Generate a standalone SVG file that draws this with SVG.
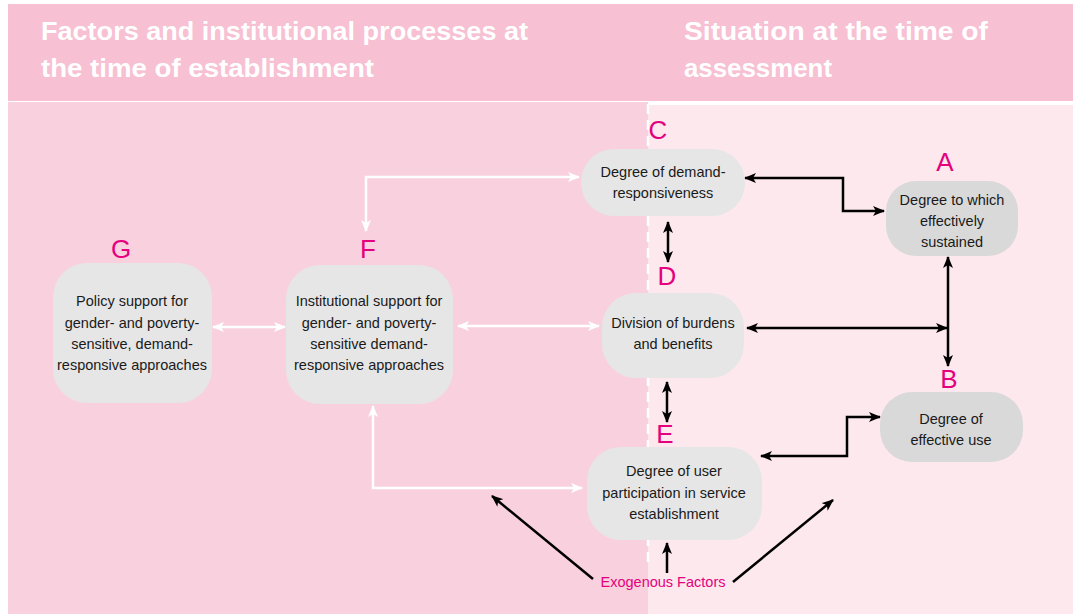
<svg xmlns="http://www.w3.org/2000/svg" width="1073" height="614" viewBox="0 0 1073 614">
<defs>
<style>
.hdr{font-family:"Liberation Sans",Arial,sans-serif;font-weight:bold;font-size:26px;fill:#ffffff}
.lbl{font-family:"Liberation Sans",Arial,sans-serif;font-size:26px;fill:#e5007d;text-anchor:middle}
.txt{font-family:"Liberation Sans",Arial,sans-serif;font-size:14.5px;fill:#1a1a1a;text-anchor:middle}
.box{fill:#e6e6e6}
.box2{fill:#d9d9d9}
.blk{fill:none;stroke:#000;stroke-width:2.5}
.wht{fill:none;stroke:#fff;stroke-width:2.5}
</style>
<marker id="ab" viewBox="0 0 12 10" refX="11" refY="5" markerWidth="12" markerHeight="10" markerUnits="userSpaceOnUse" orient="auto-start-reverse"><path d="M0,0 L12,5 L0,10 L3,5 Z" fill="#000"/></marker>
<marker id="aw" viewBox="0 0 12 10" refX="11" refY="5" markerWidth="12" markerHeight="10" markerUnits="userSpaceOnUse" orient="auto-start-reverse"><path d="M0,0 L12,5 L0,10 L3,5 Z" fill="#fff"/></marker>
</defs>
<rect x="0" y="0" width="1073" height="614" fill="#ffffff"/>
<rect x="8" y="4" width="1065" height="97" fill="#f7c0d3"/>
<rect x="8" y="102" width="640" height="512" fill="#f9d1de"/>
<rect x="648" y="105" width="425" height="509" fill="#fde8ee"/>
<line x1="648" y1="104" x2="648" y2="565" stroke="#fff" stroke-width="2.5" stroke-dasharray="10 6"/>
<g id="header">
<text class="hdr" x="41" y="40" textLength="487" lengthAdjust="spacingAndGlyphs">Factors and institutional processes at</text>
<text class="hdr" x="41" y="77" textLength="333" lengthAdjust="spacingAndGlyphs">the time of establishment</text>
<text class="hdr" x="684" y="40" textLength="304" lengthAdjust="spacingAndGlyphs">Situation at the time of</text>
<text class="hdr" x="684" y="77" textLength="148" lengthAdjust="spacingAndGlyphs">assessment</text>
</g>
<g id="connectors">
<path class="wht" d="M366,231 V177 H579" marker-start="url(#aw)" marker-end="url(#aw)"/>
<path class="wht" d="M373,406 V488 H582" marker-start="url(#aw)" marker-end="url(#aw)"/>
<path class="wht" d="M213,327 H285" marker-start="url(#aw)" marker-end="url(#aw)"/>
<path class="wht" d="M458,326 H599" marker-start="url(#aw)" marker-end="url(#aw)"/>
<path class="blk" d="M745,178 H843 V211 H884" marker-start="url(#ab)" marker-end="url(#ab)"/>
<path class="blk" d="M747,328 H947" marker-start="url(#ab)" marker-end="url(#ab)"/>
<path class="blk" d="M948,257 V366" marker-start="url(#ab)" marker-end="url(#ab)"/>
<path class="blk" d="M761,456 H847 V417 H880" marker-start="url(#ab)" marker-end="url(#ab)"/>
<path class="blk" d="M668,222 V262" marker-start="url(#ab)" marker-end="url(#ab)"/>
<path class="blk" d="M667,382 V422" marker-start="url(#ab)" marker-end="url(#ab)"/>
<path class="blk" d="M667,573 V543" marker-end="url(#ab)"/>
<path class="blk" d="M593,579 L492,496" marker-end="url(#ab)"/>
<path class="blk" d="M733,582 L833,500" marker-end="url(#ab)"/>
</g>
<g id="nodeC">
<rect class="box" x="581" y="149" width="164" height="67" rx="33"/>
<text class="lbl" x="658" y="139">C</text>
<text class="txt" x="663" y="177">Degree of demand-</text>
<text class="txt" x="663" y="198">responsiveness</text>
</g>
<g id="nodeA">
<rect class="box2" x="886" y="181" width="132" height="75" rx="30"/>
<text class="lbl" x="945" y="171">A</text>
<text class="txt" x="952" y="205">Degree to which</text>
<text class="txt" x="952" y="226">effectively</text>
<text class="txt" x="952" y="247">sustained</text>
</g>
<g id="nodeB">
<rect class="box2" x="880" y="392" width="143" height="70" rx="32"/>
<text class="lbl" x="949" y="388">B</text>
<text class="txt" x="951" y="424">Degree of</text>
<text class="txt" x="951" y="445">effective use</text>
</g>
<g id="nodeD">
<rect class="box" x="602" y="293" width="142" height="85" rx="34"/>
<text class="lbl" x="667" y="285">D</text>
<text class="txt" x="673" y="328">Division of burdens</text>
<text class="txt" x="673" y="349">and benefits</text>
</g>
<g id="nodeE">
<rect class="box" x="587" y="447" width="175" height="93" rx="34"/>
<text class="lbl" x="665" y="443">E</text>
<text class="txt" x="674" y="476">Degree of user</text>
<text class="txt" x="674" y="498">participation in service</text>
<text class="txt" x="674" y="519">establishment</text>
</g>
<g id="nodeF">
<rect class="box" x="286" y="265" width="167" height="139" rx="34"/>
<text class="lbl" x="368" y="258">F</text>
<text class="txt" x="369" y="306">Institutional support for</text>
<text class="txt" x="369" y="328">gender- and poverty-</text>
<text class="txt" x="369" y="349">sensitive demand-</text>
<text class="txt" x="369" y="370">responsive approaches</text>
</g>
<g id="nodeG">
<rect class="box" x="53" y="263" width="159" height="140" rx="34"/>
<text class="lbl" x="121" y="258">G</text>
<text class="txt" x="132" y="306">Policy support for</text>
<text class="txt" x="132" y="328">gender- and poverty-</text>
<text class="txt" x="132" y="349">sensitive, demand-</text>
<text class="txt" x="132" y="370">responsive approaches</text>
</g>
<g id="exogenous">
<text x="663" y="587" font-family="Liberation Sans, Arial, sans-serif" font-size="14.5" fill="#e5007d" text-anchor="middle">Exogenous Factors</text>
</g>
</svg>
